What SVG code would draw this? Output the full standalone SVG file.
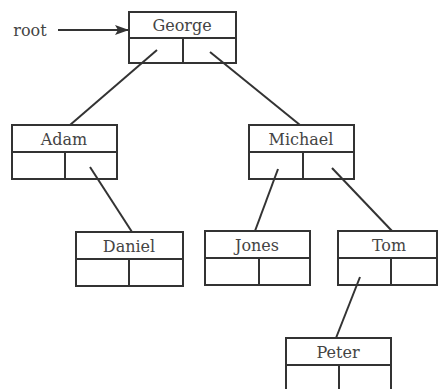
<svg xmlns="http://www.w3.org/2000/svg" width="439" height="389" viewBox="0 0 439 389">
<style>
.box{fill:none;stroke:#333;stroke-width:2}
.lbl{font-family:'DejaVu Serif','Liberation Serif',serif;font-size:16px;fill:#444;text-anchor:middle}
.edge{stroke:#333;stroke-width:2;fill:none}
</style>
<defs>
<marker id="arr" markerWidth="14" markerHeight="10" refX="13" refY="5" orient="auto" markerUnits="userSpaceOnUse">
<path d="M0,0 L14,5 L0,10 L3,5 z" fill="#333"/>
</marker>
</defs>
<rect width="439" height="389" fill="#fff"/>
<g id="connectors">
<line class="edge" x1="58" y1="30" x2="128" y2="30" marker-end="url(#arr)"/>
<line class="edge" x1="157" y1="50" x2="70" y2="125"/>
<line class="edge" x1="210" y1="52" x2="300" y2="125"/>
<line class="edge" x1="90" y1="167" x2="132" y2="232"/>
<line class="edge" x1="278" y1="169" x2="255" y2="231"/>
<line class="edge" x1="332" y1="168" x2="392" y2="231"/>
<line class="edge" x1="360" y1="277" x2="336" y2="338"/>
</g>
<text class="lbl" x="30" y="36">root</text>
<g id="george">
<rect class="box" x="129" y="12" width="107" height="51"/>
<line class="box" x1="129" y1="38" x2="236" y2="38"/>
<line class="box" x1="183" y1="38" x2="183" y2="63"/>
<text class="lbl" x="182" y="31">George</text>
</g>
<g id="adam">
<rect class="box" x="12" y="125" width="105" height="54"/>
<line class="box" x1="12" y1="152" x2="117" y2="152"/>
<line class="box" x1="65" y1="152" x2="65" y2="179"/>
<text class="lbl" x="64" y="145">Adam</text>
</g>
<g id="michael">
<rect class="box" x="249" y="125" width="105" height="54"/>
<line class="box" x1="249" y1="152" x2="354" y2="152"/>
<line class="box" x1="303" y1="152" x2="303" y2="179"/>
<text class="lbl" x="301" y="145">Michael</text>
</g>
<g id="daniel">
<rect class="box" x="76" y="232" width="107" height="54"/>
<line class="box" x1="76" y1="259" x2="183" y2="259"/>
<line class="box" x1="129" y1="259" x2="129" y2="286"/>
<text class="lbl" x="129" y="252">Daniel</text>
</g>
<g id="jones">
<rect class="box" x="205" y="231" width="105" height="54"/>
<line class="box" x1="205" y1="258" x2="310" y2="258"/>
<line class="box" x1="259" y1="258" x2="259" y2="285"/>
<text class="lbl" x="257" y="251">Jones</text>
</g>
<g id="tom">
<rect class="box" x="338" y="231" width="99" height="54"/>
<line class="box" x1="338" y1="258" x2="437" y2="258"/>
<line class="box" x1="391" y1="258" x2="391" y2="285"/>
<text class="lbl" x="389" y="251">Tom</text>
</g>
<g id="peter">
<rect class="box" x="286" y="338" width="105" height="54"/>
<line class="box" x1="286" y1="365" x2="391" y2="365"/>
<line class="box" x1="339" y1="365" x2="339" y2="392"/>
<text class="lbl" x="338" y="358">Peter</text>
</g>
</svg>
